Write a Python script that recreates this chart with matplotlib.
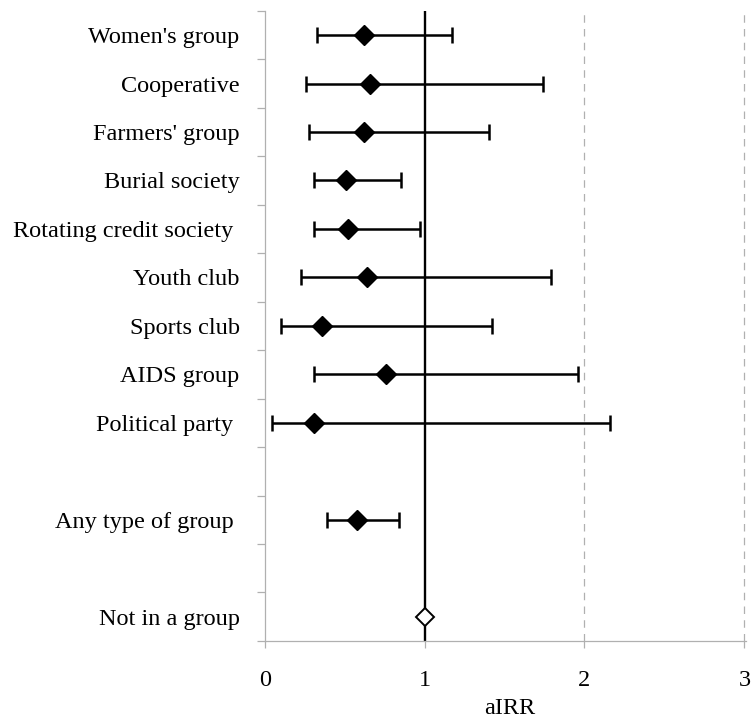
import numpy as np
import matplotlib
matplotlib.use("Agg")
import matplotlib.pyplot as plt

# ---- data (blank rows are spacers) ----
categories = ["Women's group", "Cooperative", "Farmers' group", "Burial society",
              "Rotating credit society ", "Youth club", "Sports club", "AIDS group",
              "Political party ", "", "Any type of group ", "", "Not in a group"]
airr  = [0.62, 0.66, 0.62, 0.51, 0.52, 0.64, 0.36, 0.76, 0.31, np.nan, 0.58, np.nan, 1.00]
lower = [0.33, 0.26, 0.28, 0.31, 0.31, 0.225, 0.10, 0.31, 0.045, np.nan, 0.39, np.nan, 1.00]
upper = [1.17, 1.74, 1.40, 0.85, 0.97, 1.79, 1.42, 1.96, 2.16, np.nan, 0.84, np.nan, 1.00]
reference_row = "Not in a group"
xticks = [0, 1, 2, 3]

plt.rcParams['font.family'] = ['Liberation Serif', 'DejaVu Serif']

fig = plt.figure(figsize=(7.52, 7.21), dpi=100)
ax = fig.add_axes([0.352, 0.111, 0.640, 0.874])

n = len(categories)
ypos = np.array([n - 0.5 - i for i in range(n)])
airr = np.array(airr); lower = np.array(lower); upper = np.array(upper)

# reference lines
ax.axvline(1, color='black', lw=1.7, zorder=2)
for xv in [2, 3]:
    ax.axvline(xv, color='#b0b0b0', lw=0.9, ls=(0, (6, 5)), zorder=1)

for i, cat in enumerate(categories):
    if np.isnan(airr[i]):
        continue
    if cat.strip() == reference_row:
        ax.plot(airr[i], ypos[i], marker='D', ms=9, mfc='white', mec='black',
                mew=1.4, zorder=4, ls='none')
    else:
        ax.errorbar(airr[i], ypos[i],
                    xerr=[[airr[i] - lower[i]], [upper[i] - airr[i]]],
                    fmt='D', ms=10, mfc='black', mec='black', ecolor='black',
                    elinewidth=1.8, capsize=5.5, capthick=1.8, zorder=3)

ax.set_xlim(0, 3.01)
ax.set_ylim(0, n)
ax.set_xticks(xticks)
ax.set_xticklabels([str(t) for t in xticks], fontsize=17.5)
ax.set_yticks(ypos)
ax.set_yticklabels(categories, fontsize=17.5)
ax.tick_params(axis='y', which='major', length=0, pad=18)
ax.set_yticks(np.arange(0, n + 1), minor=True)
ax.tick_params(axis='y', which='minor', length=6, color='#b0b0b0', width=0.9)
ax.tick_params(axis='x', which='major', length=5, color='#b0b0b0', width=0.9, pad=16)

for s in ['top', 'right']:
    ax.spines[s].set_visible(False)
for s in ['left', 'bottom']:
    ax.spines[s].set_color('#b0b0b0')
    ax.spines[s].set_linewidth(0.9)

ax.set_xlabel('aIRR', fontsize=17.5)
ax.xaxis.set_label_coords(0.51, -0.090)

fig.savefig('out.png', dpi=100)
